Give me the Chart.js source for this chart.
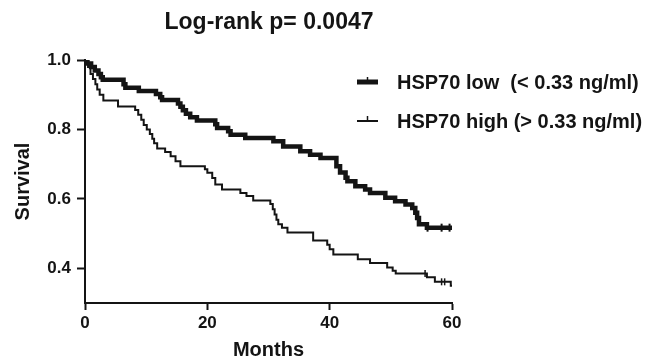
<!DOCTYPE html>
<html>
<head>
<meta charset="utf-8">
<script src="https://cdn.jsdelivr.net/npm/chart.js@4.4.1/dist/chart.umd.min.js"></script>
<style>
html,body{margin:0;padding:0;background:#fff;}
#wrap{width:660px;height:360px;position:relative;}
</style>
</head>
<body>
<div id="wrap"><canvas id="c" width="660" height="360"></canvas></div>
<script>
// ---- Data ----
const chartTitle = "Log-rank p= 0.0047";
const xTitle = "Months";
const yTitle = "Survival";
const xTicks = [0, 20, 40, 60];
const yTicks = [0.4, 0.6, 0.8, 1.0];

const lowLabel = "HSP70 low  (< 0.33 ng/ml)";
const lowTimes = [0, 0.4, 1.0, 1.6, 2.2, 2.6, 2.9, 6.3, 6.6, 8.8, 11.6, 12.3, 12.6, 15.2, 15.6, 16.0, 16.5, 17.2, 18.3, 21.3, 21.6, 23.4, 23.8, 26.2, 30.8, 32.4, 35.2, 36.8, 38.5, 41.1, 41.7, 42.6, 42.9, 44.2, 45.8, 46.6, 49.1, 50.7, 52.4, 53.5, 54.0, 54.3, 54.6, 55.9, 60];
const lowSurv  = [1.0, 0.99, 0.98, 0.97, 0.96, 0.95, 0.943, 0.93, 0.92, 0.911, 0.902, 0.893, 0.885, 0.875, 0.865, 0.855, 0.845, 0.835, 0.826, 0.815, 0.804, 0.795, 0.785, 0.775, 0.766, 0.751, 0.737, 0.727, 0.718, 0.694, 0.676, 0.661, 0.651, 0.636, 0.627, 0.617, 0.603, 0.593, 0.584, 0.574, 0.56, 0.545, 0.527, 0.517, 0.517];
const lowCensorT = [56.0, 58.3, 59.6];
const lowCensorS = [0.517, 0.517, 0.517];

const highLabel = "HSP70 high (> 0.33 ng/ml)";
const highTimes = [0, 0.5, 0.9, 1.3, 1.7, 2.0, 2.4, 3.0, 5.4, 8.2, 8.7, 9.2, 9.6, 10.1, 10.6, 11.0, 11.3, 11.8, 13.1, 14.0, 14.8, 15.6, 19.6, 20.0, 20.8, 21.3, 22.4, 25.4, 26.4, 27.5, 30.3, 30.7, 31.0, 31.3, 31.6, 32.2, 33.1, 37.3, 39.6, 40.0, 40.6, 44.6, 46.6, 49.4, 50.3, 50.8, 55.9, 57.2, 59.8, 60];
const highSurv  = [1.0, 0.98, 0.96, 0.945, 0.93, 0.915, 0.9, 0.883, 0.866, 0.856, 0.842, 0.828, 0.813, 0.8, 0.787, 0.773, 0.76, 0.745, 0.735, 0.723, 0.708, 0.694, 0.685, 0.675, 0.66, 0.641, 0.627, 0.617, 0.608, 0.595, 0.585, 0.57, 0.555, 0.54, 0.527, 0.517, 0.503, 0.48, 0.468, 0.455, 0.44, 0.426, 0.415, 0.402, 0.393, 0.385, 0.374, 0.361, 0.35, 0.35];
const highCensorT = [55.6, 58.3, 58.8];
const highCensorS = [0.385, 0.361, 0.361];

// ---- Build ----
const toPts = (t, s) => t.map((v, i) => ({x: v, y: s[i]}));
const INK = '#141414';
const FONT = '"Liberation Sans", Arial, sans-serif';
const LOW_W = 4.5, HIGH_W = 2;

const legendPlugin = {
  id: 'kmLegend',
  afterDraw(chart) {
    const ctx = chart.ctx;
    ctx.save();
    // title
    ctx.fillStyle = INK;
    ctx.font = 'bold 23px ' + FONT;
    ctx.textAlign = 'center';
    ctx.textBaseline = 'alphabetic';
    ctx.fillText(chartTitle, 269, 29);
    // legend
    const items = [
      {label: lowLabel, w: 5, y: 82},
      {label: highLabel, w: HIGH_W, y: 121}
    ];
    ctx.textAlign = 'left';
    ctx.textBaseline = 'middle';
    ctx.font = 'bold 20px ' + FONT;
    items.forEach(it => {
      ctx.strokeStyle = INK;
      ctx.lineWidth = it.w;
      ctx.beginPath();
      ctx.moveTo(357, it.y);
      ctx.lineTo(378, it.y);
      ctx.stroke();
      ctx.lineWidth = 1.5;
      ctx.beginPath();
      ctx.moveTo(367.5, it.y - 5);
      ctx.lineTo(367.5, it.y);
      ctx.stroke();
      ctx.fillText(it.label, 397, it.y + 1);
    });
    ctx.restore();
  }
};

new Chart(document.getElementById('c'), {
  type: 'line',
  data: {
    datasets: [
      {label: lowLabel, data: toPts(lowTimes, lowSurv), borderColor: INK, borderWidth: LOW_W, stepped: true, pointRadius: 0, fill: false, borderCapStyle: 'butt'},
      {label: highLabel, data: toPts(highTimes, highSurv), borderColor: INK, borderWidth: HIGH_W, stepped: true, pointRadius: 0, fill: false},
      {label: 'lowCensor', type: 'scatter', data: toPts(lowCensorT, lowCensorS), pointStyle: 'line', rotation: 90, pointRadius: 4, borderColor: INK, borderWidth: 2, showLine: false},
      {label: 'highCensor', type: 'scatter', data: toPts(highCensorT, highCensorS), pointStyle: 'line', rotation: 90, pointRadius: 3.5, borderColor: INK, borderWidth: 1.5, showLine: false}
    ]
  },
  options: {
    responsive: false,
    animation: false,
    events: [],
    layout: {padding: {top: 60, right: 208, left: 0, bottom: 0}},
    plugins: {legend: {display: false}, title: {display: false}, tooltip: {enabled: false}},
    scales: {
      x: {
        type: 'linear', min: 0, max: 60,
        afterBuildTicks: s => { s.ticks = xTicks.map(v => ({value: v})); },
        afterFit: s => { s.height = 57; },
        grid: {display: true, drawOnChartArea: false, tickLength: 7, tickWidth: 2, tickColor: INK},
        border: {display: true, color: INK, width: 2},
        ticks: {color: INK, font: {family: FONT, size: 17, weight: 'bold'}, padding: 3, maxRotation: 0},
        title: {display: true, text: xTitle, color: INK, font: {family: FONT, size: 20, weight: 'bold', lineHeight: 1.0}, padding: {top: 0, bottom: 0}}
      },
      y: {
        type: 'linear', min: 0.3, max: 1.0,
        afterBuildTicks: s => { s.ticks = yTicks.map(v => ({value: v})); },
        afterFit: s => { s.width = 85; },
        grid: {display: true, drawOnChartArea: false, tickLength: 8, tickWidth: 2, tickColor: INK},
        border: {display: true, color: INK, width: 2},
        ticks: {color: INK, font: {family: FONT, size: 17, weight: 'bold'}, padding: 6, callback: v => Number(v).toFixed(1)},
        title: {display: true, text: yTitle, color: INK, font: {family: FONT, size: 20, weight: 'bold', lineHeight: 1.0}, padding: {top: 13, bottom: 0}}
      }
    }
  },
  plugins: [legendPlugin]
});
</script>
</body>
</html>
